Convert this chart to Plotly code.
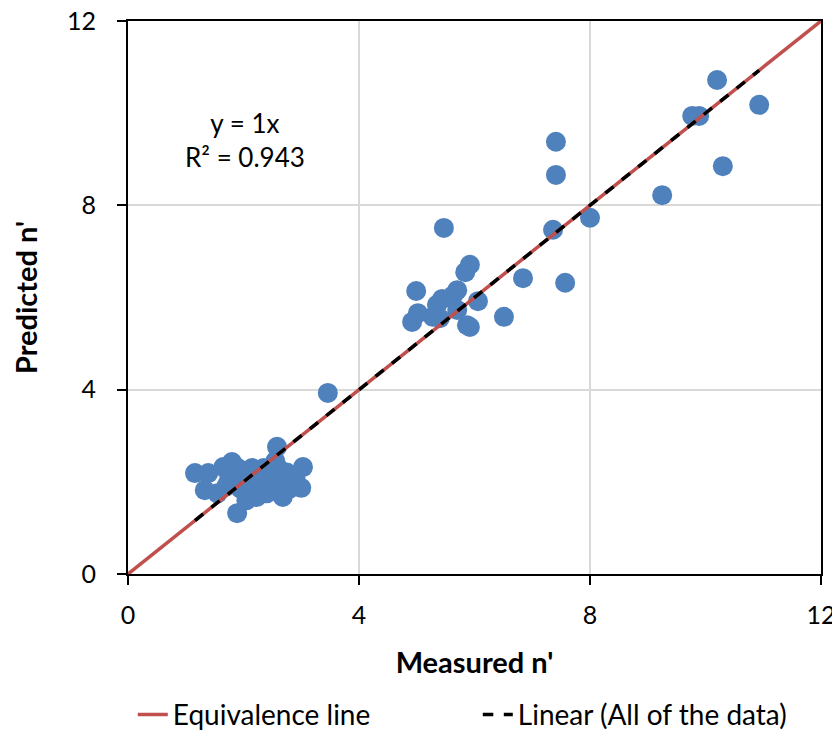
import plotly.graph_objects as go

# Measured vs predicted n'
measured = [
    1.16, 1.39, 1.33, 1.55, 1.65, 1.80, 1.75, 1.89, 1.95, 2.00, 2.10, 2.15, 2.23, 2.30,
    2.35, 2.40, 2.45, 2.50, 2.58, 2.60, 2.68, 2.70, 2.75, 2.80, 3.00, 3.03, 2.90, 1.70,
    2.05, 2.55, 1.90, 2.20, 2.65, 2.35,
    3.46,
    4.92, 4.99, 5.02, 5.28, 5.35, 5.44, 5.47, 5.63, 5.70, 5.70, 5.84, 5.87, 5.92, 5.92,
    6.06, 6.51, 6.84, 5.40,
    7.36, 7.41, 7.41, 7.57, 8.00, 9.25, 9.77, 9.89, 10.20, 10.30, 10.93,
]
predicted = [
    2.19, 2.19, 1.82, 1.75, 2.32, 2.43, 2.05, 1.32, 1.85, 2.20, 1.95, 2.30, 1.67, 2.00,
    2.30, 1.75, 2.10, 1.90, 2.76, 2.30, 1.67, 2.05, 2.20, 1.85, 1.87, 2.32, 2.10, 1.90,
    1.60, 2.45, 2.30, 2.15, 1.95, 1.80,
    3.93,
    5.47, 6.14, 5.66, 5.58, 5.84, 5.97, 7.51, 6.05, 6.16, 5.73, 6.55, 5.40, 6.71, 5.36,
    5.92, 5.58, 6.42, 5.55,
    7.47, 9.38, 8.66, 6.32, 7.73, 8.22, 9.94, 9.94, 10.72, 8.85, 10.18,
]
equiv_x = [0, 12]
equiv_y = [0, 12]
trend_x = [1.16, 10.93]
trend_y = [1.16, 10.93]
ticks = [0, 4, 8, 12]

FONT = "Lato"

fig = go.Figure()
fig.add_trace(go.Scatter(
    x=measured, y=predicted, mode="markers",
    marker=dict(size=20, color="#4F81BD"), showlegend=False,
))
fig.add_trace(go.Scatter(
    x=equiv_x, y=equiv_y, mode="lines", name="Equivalence line",
    line=dict(color="#C0504D", width=3.5),
))
fig.add_trace(go.Scatter(
    x=trend_x, y=trend_y, mode="lines", name="Linear (All of the data)",
    line=dict(color="black", width=3.5, dash="dash"),
))

axis_common = dict(
    range=[0, 12], tickvals=ticks, showgrid=True, gridcolor="#D9D9D9", gridwidth=1.5,
    showline=True, linecolor="black", linewidth=2, mirror=True,
    ticks="outside", ticklen=9, tickcolor="black", tickwidth=1.5,
    tickfont=dict(size=25, color="black", family=FONT), zeroline=False,
    automargin=False, ticklabeloverflow="allow",
)
fig.update_xaxes(**axis_common, ticklabelstandoff=9,
                 title=dict(text="<b>Measured n'</b>", font=dict(size=29, family=FONT, color="black"), standoff=25))
fig.update_yaxes(**axis_common, ticklabelstandoff=16,
                 title=dict(text="<b>Predicted n'</b>", font=dict(size=29, family=FONT, color="black"), standoff=34))

fig.add_annotation(
    x=0.169, y=0.785, xref="paper", yref="paper", showarrow=False,
    xanchor="center", yanchor="middle",
    text="y = 1x<br>R² = 0.943", align="center",
    font=dict(size=26, family=FONT, color="black"),
)

# The page body has an 8px margin; the figure is sized so the page fits
# the 840x738 window without a vertical scrollbar.
fig.update_layout(
    width=832, height=722,
    margin=dict(l=120, r=19, t=13, b=156),
    plot_bgcolor="white", paper_bgcolor="white",
    font=dict(family=FONT, color="black"),
    legend=dict(orientation="h", xref="container", yref="container",
                x=0.15, xanchor="left", y=0.021, yanchor="middle",
                font=dict(size=28, family=FONT, color="black"),
                entrywidth=300, entrywidthmode="pixels",
                tracegroupgap=0),
)

fig.write_html("out.html")
